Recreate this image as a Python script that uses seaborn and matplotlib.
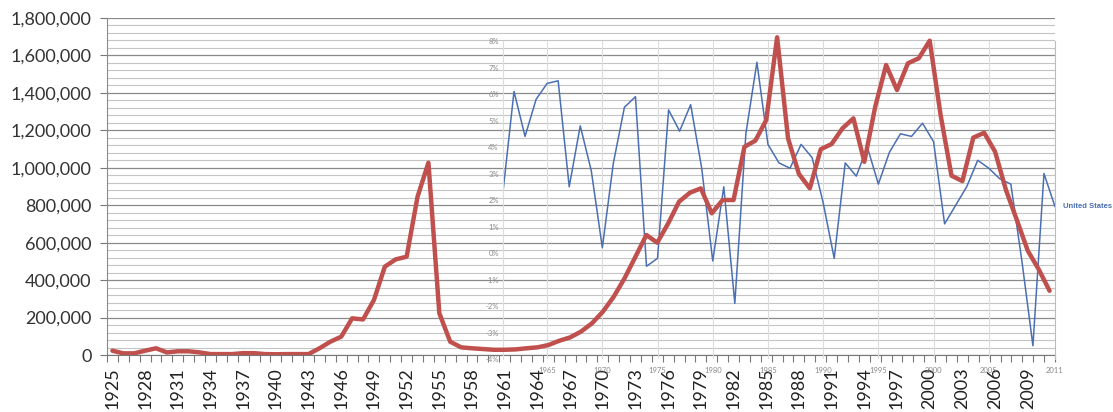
import numpy as np
import pandas as pd
import matplotlib
matplotlib.use("Agg")
import matplotlib.pyplot as plt
import matplotlib.ticker as mticker
import seaborn as sns

# red series: 1925-2011
years = list(range(1925, 2012))
red_values = [
    23000, 9000, 9000, 23000, 36000, 14000, 20000, 20000, 14000, 5000,
    5000, 5000, 10000, 10000, 5000, 4000, 5000, 5000, 5000, 36000,
    71000, 98000, 196000, 190000, 294000, 472000, 511000, 525000, 845000, 1027000,
    223000, 71000, 41000, 36000, 32000, 28000, 28000, 30000, 36000, 41000,
    53000, 76000, 94000, 125000, 169000, 231000, 311000, 410000, 525000, 641000,
    600000, 703000, 819000, 867000, 890000, 757000, 828000, 828000, 1112000, 1145000,
    1255000, 1697000, 1157000, 967000, 890000, 1099000, 1127000, 1211000, 1264000, 1032000,
    1326000, 1549000, 1415000, 1558000, 1585000, 1679000, 1282000, 958000, 929000, 1161000,
    1187000, 1086000, 881000, 721000, 557000, 458000, 343000,
]

# pasted inset: growth rate, 1961-2011
inset_years = list(range(1961, 2012))
inset_values = [
    2.3, 6.1, 4.4, 5.8, 6.4, 6.5, 2.5, 4.8, 3.1, 0.2,
    3.4, 5.5, 5.9, -0.5, -0.2, 5.4, 4.6, 5.6, 3.2, -0.3,
    2.5, -1.9, 4.5, 7.2, 4.1, 3.4, 3.2, 4.1, 3.6, 1.9,
    -0.2, 3.4, 2.9, 4.0, 2.6, 3.8, 4.5, 4.4, 4.9, 4.2,
    1.1, 1.8, 2.5, 3.5, 3.2, 2.8, 2.6, -0.3, -3.5, 3.0,
    1.75,
]
inset_label = "United States"

red_df = pd.DataFrame({"year": years, "value": red_values})
inset_df = pd.DataFrame({"year": inset_years, "growth": inset_values})

sns.set_style("white")
plt.rcParams["font.family"] = ["Lato", "DejaVu Sans"]

fig = plt.figure(figsize=(11.13, 4.12), dpi=100)
pos = [0.0961, 0.1383, 0.8518, 0.818]

# main axes: grid, ticks, labels
ax = fig.add_axes(pos, zorder=1)
ax.set_xlim(1924.5, 2011.5)
ax.set_ylim(0, 1800000)
ax.yaxis.set_major_locator(mticker.MultipleLocator(200000))
ax.yaxis.set_minor_locator(mticker.MultipleLocator(40000))
ax.yaxis.set_major_formatter(mticker.FuncFormatter(lambda v, p: f"{int(v):,}"))
ax.grid(axis="y", which="major", color="#8a8a8a", lw=0.9)
ax.grid(axis="y", which="minor", color="#c4c4c4", lw=0.8)
ax.set_axisbelow(True)
ax.set_xticks(np.arange(1924.5, 2012, 1))
ax.set_xticklabels([])
ax.set_xticks(years[::3], minor=True)
ax.set_xticklabels([str(y) for y in years[::3]], minor=True, rotation=90)
ax.tick_params(axis="x", which="major", length=5, color="#777777", direction="out", bottom=True)
ax.tick_params(axis="x", which="minor", length=0, pad=9, labelsize=13, labelcolor="#222222")
ax.tick_params(axis="y", which="major", length=5, color="#777777", direction="out", left=True,
               labelsize=13, labelcolor="#333333", pad=6)
ax.tick_params(axis="y", which="minor", length=0)
for s in ["top", "right"]:
    ax.spines[s].set_visible(False)
ax.spines["left"].set_color("#8a8a8a")
ax.spines["bottom"].set_color("#777777")

# inset chart pasted on top
ax_in = fig.add_axes([0.4519, 0.1286, 0.496, 0.7718], zorder=2)
ax_in.patch.set_alpha(0)
sns.lineplot(data=inset_df, x="year", y="growth", ax=ax_in, color="#4a6fb3", lw=1.1)
ax_in.set_xlim(1961, 2011)
ax_in.set_ylim(-4, 8)
ax_in.set_xticks([1965, 1970, 1975, 1980, 1985, 1990, 1995, 2000, 2005, 2011])
ax_in.yaxis.set_major_locator(mticker.MultipleLocator(1))
ax_in.yaxis.set_major_formatter(mticker.FuncFormatter(lambda v, p: f"{int(v)}%"))
ax_in.grid(axis="x", color="#dcdcdc", lw=0.8)
ax_in.grid(axis="y", visible=False)
ax_in.tick_params(axis="both", length=0, labelsize=5.5, labelcolor="#8a8a8a")
ax_in.tick_params(axis="x", pad=6)
ax_in.tick_params(axis="y", pad=3)
ax_in.set_xlabel("")
ax_in.set_ylabel("")
for s in ["top", "bottom"]:
    ax_in.spines[s].set_visible(False)
ax_in.spines["left"].set_color("#dcdcdc")
ax_in.spines["right"].set_color("#bdbdbd")
ax_in.text(2011.7, inset_values[-1], inset_label, color="#4a6fb3", fontsize=5.5,
           fontweight="bold", ha="left", va="center", family=["Liberation Sans", "DejaVu Sans"])

# red line above everything
ax_top = fig.add_axes(pos, zorder=3, sharex=ax, sharey=ax)
ax_top.patch.set_alpha(0)
sns.lineplot(data=red_df, x="year", y="value", ax=ax_top, color="#c0504d", lw=3.2)
ax_top.axis("off")

fig.savefig("out.png", dpi=100)
